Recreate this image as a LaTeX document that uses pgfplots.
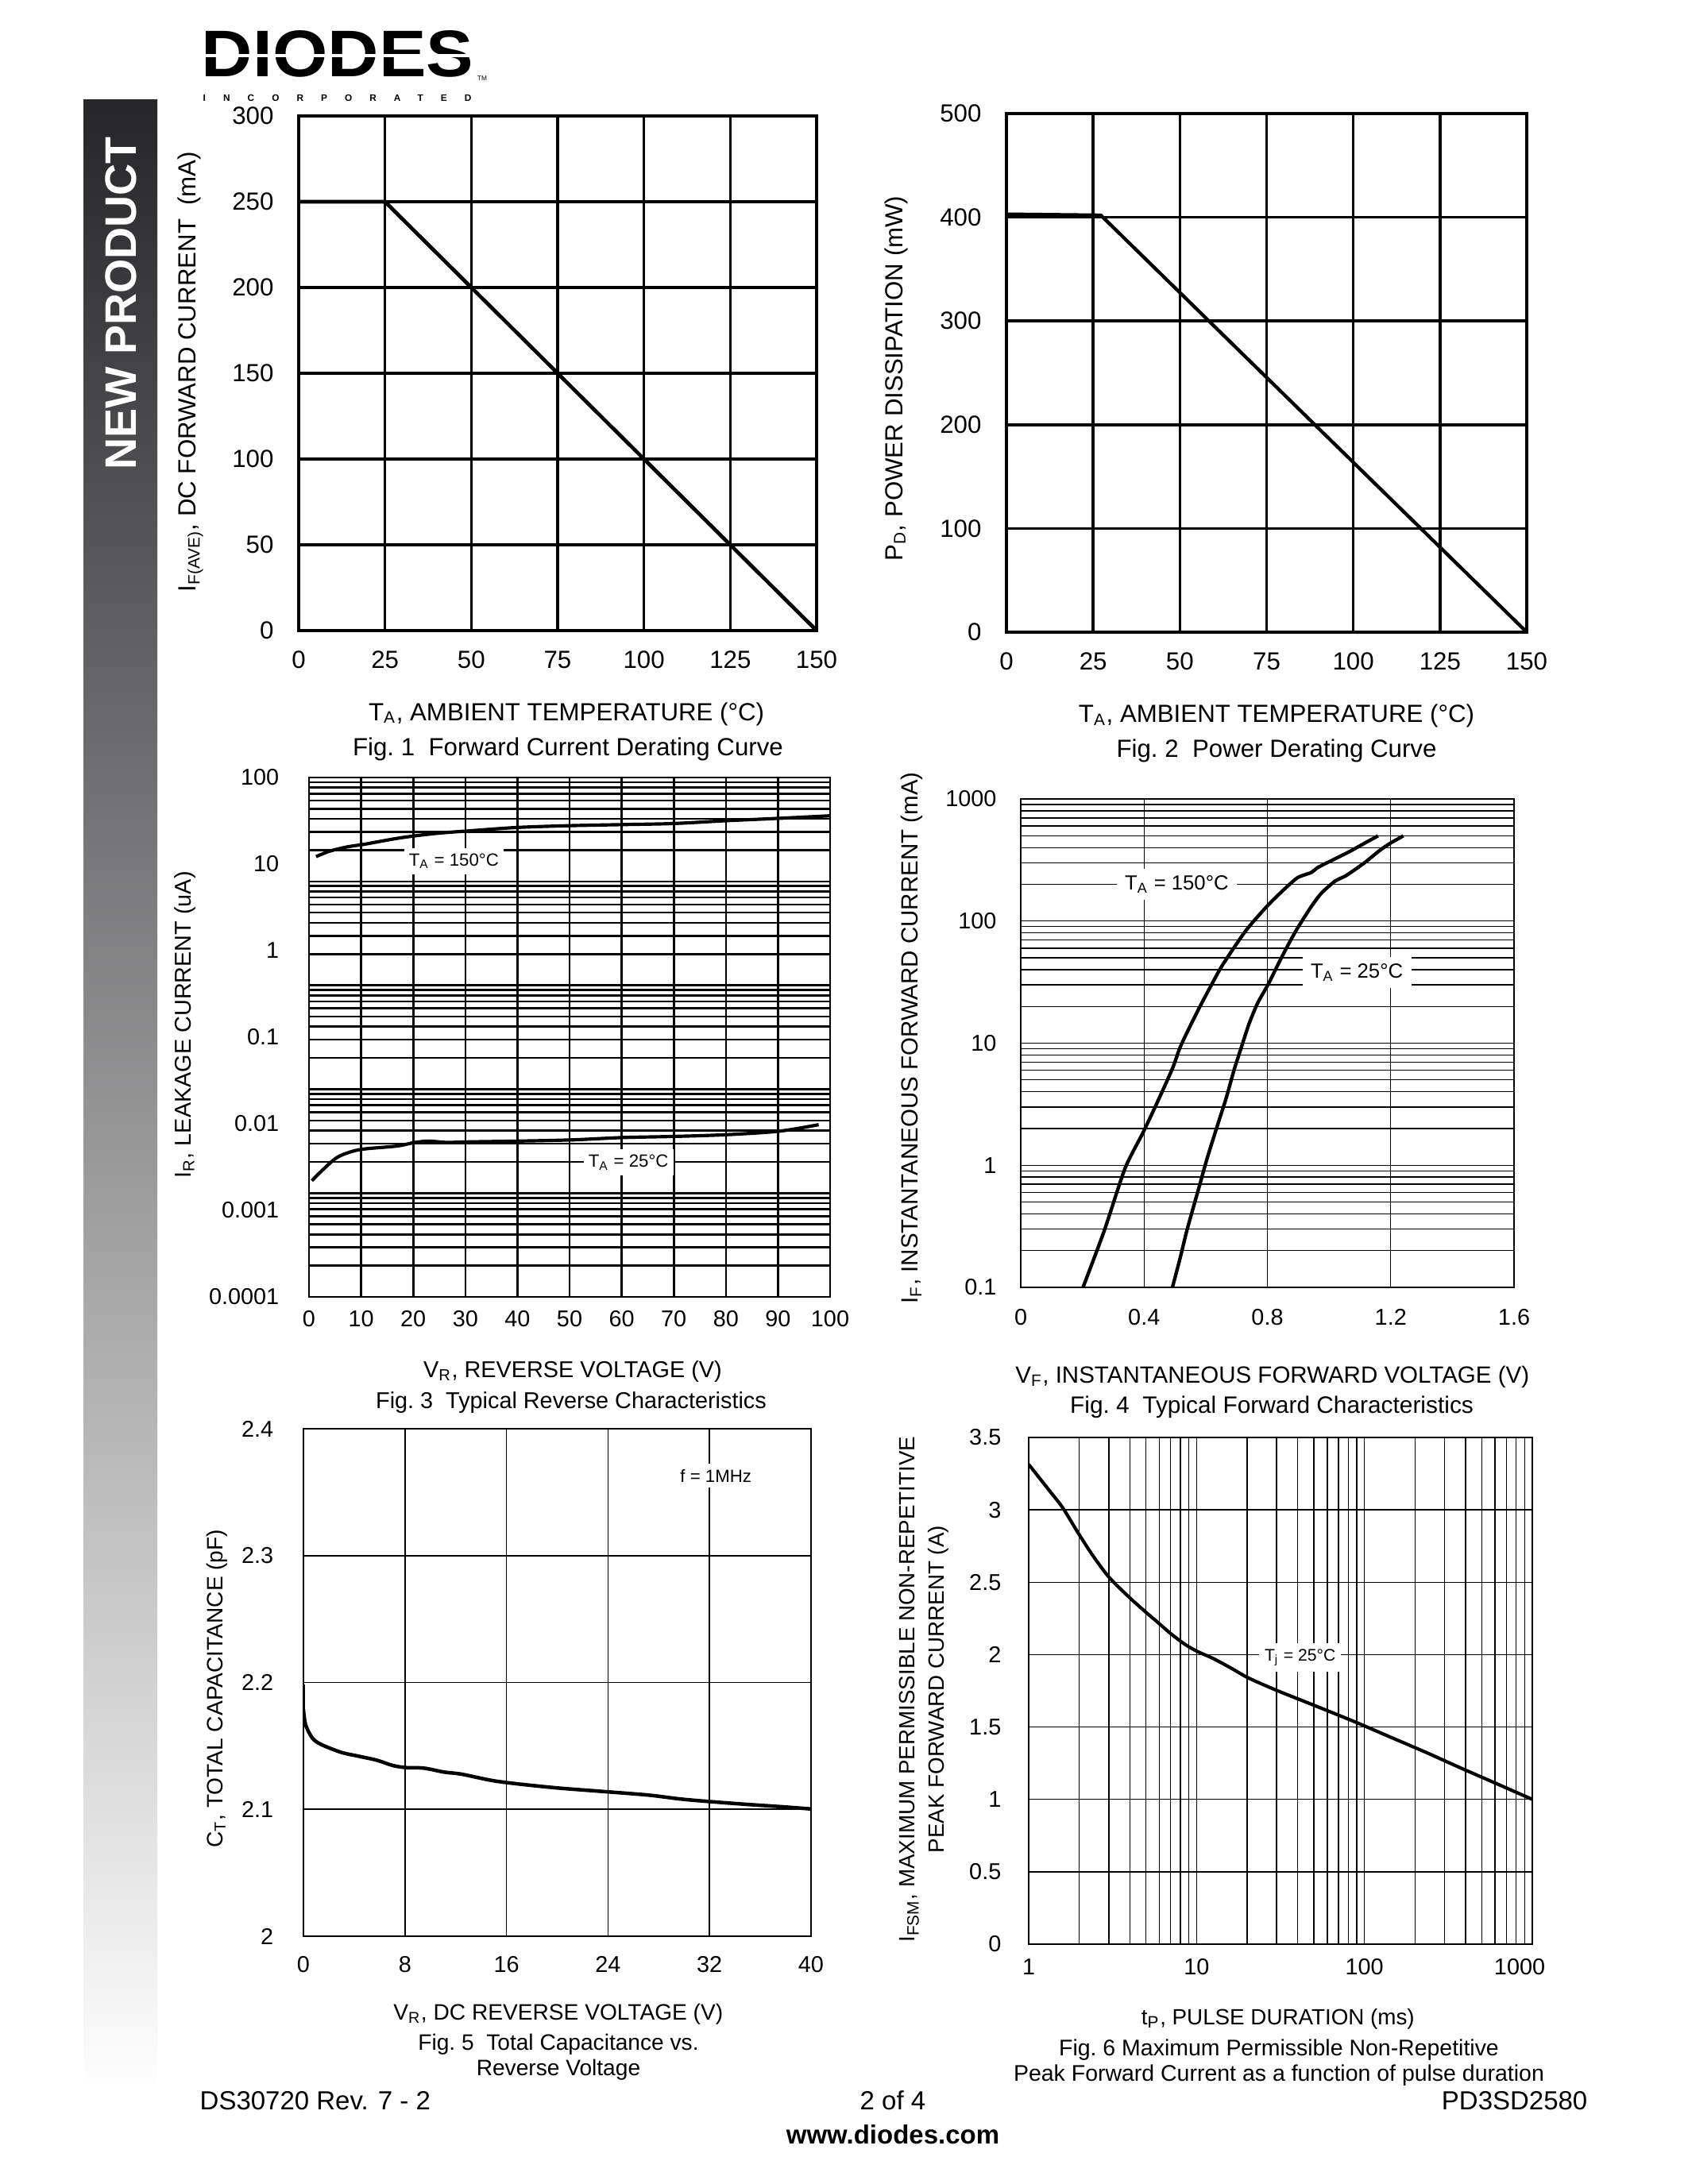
\documentclass[border=0pt]{standalone}
\usepackage{fontspec}
\setmainfont{Liberation Sans}
\usepackage{pgfplots}
\pgfplotsset{compat=1.18}
\newcommand{\fs}[2]{\fontsize{#1}{#2}\selectfont}
\definecolor{barTop}{RGB}{38,37,40}
\definecolor{barMid}{RGB}{120,121,125}
\pgfplotsset{
  ds/.style={
    scale only axis, anchor=north west,
    major tick length=0pt, minor tick length=0pt,
    tick style={draw=none},
    /pgf/number format/assume math mode=true,
    every tick label/.append style={inner sep=0pt},
    axis line style={black},
    label style={inner sep=0pt, anchor=center},
  },
}
\tikzset{txt/.style={inner sep=0pt}}
\begin{document}
\begin{tikzpicture}
\path[use as bounding box] (0,0) rectangle (612pt,-792pt);
\fill[white] (0,0) rectangle (612pt,-792pt);
% side bar
\shade[top color=barTop, middle color=barMid, bottom color=white] (30.24pt,-36.288pt) rectangle (57.024pt,-760.32pt);
\node[txt, rotate=90, text=white, font=\fs{16}{18}\bfseries] at (43.776pt,-110.016pt) {NEW PRODUCT};
% logo
\node[txt] at (122.4pt,-19.58pt) {\resizebox{98.5pt}{16.7pt}{\bfseries DIODES}};
\draw[white, line width=0.9pt] (73.44pt,-20.16pt) -- (170.5pt,-20.16pt);
\node[txt, anchor=west, font=\fs{3.4}{4}\bfseries] at (73.44pt,-35.42pt) {\addfontfeature{LetterSpace=187}INCORPORATED};
\node[txt, font=\fs{2.4}{3}] at (174.8pt,-28.5pt) {TM};

% ---------------- Fig 1 ----------------
\begin{axis}[ds, at={(108.288pt,-42.048pt)}, width=187.776pt, height=186.624pt,
  xmin=0, xmax=150, ymin=0, ymax=300,
  xtick={0,25,50,75,100,125,150}, ytick={0,50,100,150,200,250,300},
  grid=major, grid style={black, line width=1pt}, axis line style={line width=1pt},
  tick label style={font=\fs{9}{11}},
  yticklabel style={xshift=-8.9pt}, xticklabel style={yshift=-7.2pt},
  label style={font=\fs{9}{11}},
  xlabel={T\textsubscript{A}, AMBIENT TEMPERATURE (°C)},
  ylabel={I\textsubscript{F(AVE)}, DC FORWARD CURRENT\ \ (mA)},
  xlabel style={at={(axis description cs:0.517,-0.162)}},
  ylabel style={at={(axis description cs:-0.2086,0.503)}},
]
\addplot[black, line width=1.35pt] coordinates {(0,250) (25,250) (150,0)};
\end{axis}
\node[txt, font=\fs{9}{11}] at (205.92pt,-271.58pt) {Fig.\ 1\ \ Forward Current Derating Curve};

% ---------------- Fig 2 ----------------
\begin{axis}[ds, at={(364.896pt,-41.184pt)}, width=188.64pt, height=188.064pt,
  xmin=0, xmax=150, ymin=0, ymax=500,
  xtick={0,25,50,75,100,125,150}, ytick={0,100,200,300,400,500},
  grid=major, grid style={black, line width=1pt}, axis line style={line width=1pt},
  tick label style={font=\fs{9}{11}},
  yticklabel style={xshift=-8.9pt}, xticklabel style={yshift=-7.2pt},
  label style={font=\fs{9}{11}},
  xlabel={T\textsubscript{A}, AMBIENT TEMPERATURE (°C)},
  ylabel={P\textsubscript{D}, POWER DISSIPATION (mW)},
  xlabel style={at={(axis description cs:0.519,-0.162)}},
  ylabel style={at={(axis description cs:-0.212,0.489)}},
]
\addplot[black, line width=1.25pt] coordinates {(0,403) (27.2,402) (150,0)};
\end{axis}
\node[txt, font=\fs{9}{11}] at (462.82pt,-272.16pt) {Fig.\ 2\ \ Power Derating Curve};

% ---------------- Fig 3 ----------------
\begin{axis}[ds, at={(112.032pt,-281.952pt)}, width=188.928pt, height=188.352pt,
  ymode=log, xmin=0, xmax=100, ymin=0.0001, ymax=100,
  xtick={0,10,20,30,40,50,60,70,80,90,100},
  ytick={0.0001,0.001,0.01,0.1,1,10,100},
  yticklabels={0.0001,0.001,0.01,0.1,1,10,100},
  minor ytick={6.310,14.50,23.58,33.31,43.52,54.16,65.19,76.50,88.13,
    0.3981,0.9145,1.488,2.101,2.747,3.418,4.112,4.829,5.562,
    0.02512,0.05770,0.09387,0.1326,0.1733,0.2157,0.2595,0.3047,0.3509,
    0.001585,0.003641,0.005923,0.008366,0.01093,0.01361,0.01637,0.01923,0.02214,
    0.0002297,0.0003737,0.0005278,0.0006899,0.0008586,0.001033,0.001213,0.001397},
  xmajorgrids=true, ymajorgrids=false, yminorgrids=true,
  major grid style={black, line width=0.75pt}, minor grid style={black, line width=0.75pt},
  axis line style={line width=0.75pt},
  tick label style={font=\fs{8.3}{10}},
  yticklabel style={xshift=-10.7pt}, xticklabel style={yshift=-4.9pt},
  label style={font=\fs{8.3}{10}},
  xlabel={V\textsubscript{R}, REVERSE VOLTAGE (V)},
  ylabel={I\textsubscript{R}, LEAKAGE CURRENT (uA)},
  xlabel style={at={(axis description cs:0.506,-0.144)}},
  ylabel style={at={(axis description cs:-0.238,0.524)}},
]
\addplot[black, line width=1.2pt, smooth, tension=0.5] coordinates {
 (1.36,12.2) (3.95,14.1) (7.35,15.8) (10.75,17.0) (17.55,20.1) (24.35,22.6)
 (31.16,24.3) (40.0,26.5) (50.2,27.8) (60.4,28.6) (69.9,29.4) (80.1,31.7)
 (90.3,33.8) (99.9,36.1)};
\addplot[black, line width=1.2pt, smooth, tension=0.5] coordinates {
 (0.54,0.00220) (2.59,0.00292) (5.31,0.00406) (8.03,0.00475) (10.75,0.00513)
 (16.87,0.00553) (20.27,0.00608) (22.99,0.00631) (26.39,0.00610) (31.16,0.00619)
 (40.0,0.00631) (50.2,0.00651) (60.4,0.00694) (69.9,0.00714) (80.1,0.00748)
 (90.3,0.00822) (97.8,0.00977)};
\node[fill=white, inner xsep=1.8pt, inner ysep=2pt, font=\fs{6.4}{7.5}] at (axis cs:27.8,10.8) {T\textsubscript{A} = 150°C};
\node[fill=white, inner xsep=1.8pt, inner ysep=2pt, font=\fs{6.4}{7.5}] at (axis cs:61.3,0.00358) {T\textsubscript{A} = 25°C};
\end{axis}
\node[txt, font=\fs{8.3}{10}] at (207.07pt,-508.61pt) {Fig.\ 3\ \ Typical Reverse Characteristics};

% ---------------- Fig 4 ----------------
\begin{axis}[ds, at={(370.08pt,-289.728pt)}, width=178.848pt, height=177.12pt,
  ymode=log, xmin=0, xmax=1.6, ymin=0.1, ymax=1000,
  xtick={0,0.4,0.8,1.2,1.6}, xticklabels={0,0.4,0.8,1.2,1.6},
  ytick={0.1,1,10,100,1000}, yticklabels={0.1,1,10,100,1000},
  xmajorgrids=true, ymajorgrids=true, yminorgrids=true,
  major grid style={black, line width=0.4pt}, minor grid style={black, line width=0.4pt},
  axis line style={line width=0.5pt},
  tick label style={font=\fs{8.3}{10}},
  yticklabel style={xshift=-8.6pt}, xticklabel style={yshift=-7.8pt},
  label style={font=\fs{8.5}{10}},
  xlabel={V\textsubscript{F}, INSTANTANEOUS FORWARD VOLTAGE (V)},
  ylabel={I\textsubscript{F}, INSTANTANEOUS FORWARD CURRENT (mA)},
  xlabel style={at={(axis description cs:0.510,-0.183)}},
  ylabel style={at={(axis description cs:-0.221,0.511)}},
]
\addplot[black, line width=1.25pt, smooth, tension=0.4] coordinates {
 (0.202,0.1) (0.271,0.292) (0.338,0.94) (0.396,1.84) (0.441,3.2) (0.492,6.2)
 (0.515,9.0) (0.537,11.9) (0.581,19.9) (0.620,30.5) (0.655,43.9) (0.729,82.8)
 (0.796,130) (0.841,169) (0.897,226) (0.941,249) (0.964,275) (1.008,313)
 (1.064,368) (1.120,441) (1.159,499)};
\addplot[black, line width=1.25pt, smooth, tension=0.4] coordinates {
 (0.492,0.1) (0.517,0.174) (0.540,0.30) (0.576,0.63) (0.605,1.15) (0.640,2.2)
 (0.667,3.6) (0.692,6.05) (0.714,9.0) (0.740,14.3) (0.768,21.2) (0.803,30.5)
 (0.847,51) (0.892,82.8) (0.941,130) (0.975,169) (1.019,212) (1.053,234)
 (1.086,266) (1.120,307) (1.165,380) (1.198,433) (1.241,499)};
\node[fill=white, inner xsep=3pt, inner ysep=2.5pt, font=\fs{7.4}{9}] at (axis cs:0.506,200) {T\textsubscript{A} = 150°C};
\node[fill=white, inner xsep=3pt, inner ysep=2.5pt, font=\fs{7.4}{9}] at (axis cs:1.09,38) {T\textsubscript{A} = 25°C};
\end{axis}
\node[txt, font=\fs{8.6}{10}] at (461.09pt,-510.34pt) {Fig.\ 4\ \ Typical Forward Characteristics};

% ---------------- Fig 5 ----------------
\begin{axis}[ds, at={(110.016pt,-518.112pt)}, width=184.032pt, height=184.032pt,
  xmin=0, xmax=40, ymin=2, ymax=2.4,
  xtick={0,8,16,24,32,40}, ytick={2,2.1,2.2,2.3,2.4}, yticklabels={2,2.1,2.2,2.3,2.4},
  grid=major, grid style={black, line width=0.45pt}, axis line style={line width=0.5pt},
  tick label style={font=\fs{8.3}{10}},
  yticklabel style={xshift=-10.7pt}, xticklabel style={yshift=-7.2pt},
  label style={font=\fs{8.1}{10}},
  xlabel={V\textsubscript{R}, DC REVERSE VOLTAGE (V)},
  ylabel={C\textsubscript{T}, TOTAL CAPACITANCE (pF)},
  xlabel style={at={(axis description cs:0.502,-0.153)}},
  ylabel style={at={(axis description cs:-0.171,0.488)}},
]
\addplot[black, line width=1.3pt] coordinates {(0,2.1985) (0,2.1785)};
\addplot[black, line width=1.3pt, smooth, tension=0.5] coordinates {
 (0,2.1785) (0.176,2.1665) (0.703,2.1562) (1.406,2.1511) (2.988,2.1449) (4.394,2.1418)
 (5.8,2.1387) (7.03,2.1346) (8.084,2.1329) (9.49,2.1325) (11.07,2.1294) (12.48,2.1277)
 (14.94,2.1226) (17.4,2.1195) (20.21,2.1167) (23.73,2.1140) (27.24,2.1112) (30.05,2.1078)
 (34.27,2.1044) (37.79,2.1020) (40,2.1003)};
\node[fill=white, inner xsep=2pt, inner ysep=2pt, font=\fs{6.4}{8}] at (axis cs:32.5,2.363) {f = 1MHz};
\end{axis}
\node[txt, font=\fs{8.1}{9.2}, align=center] at (202.46pt,-745.92pt) {Fig.\ 5\ \ Total Capacitance vs.\\Reverse Voltage};

% ---------------- Fig 6 ----------------
\begin{axis}[ds, at={(372.96pt,-521.28pt)}, width=182.592pt, height=183.744pt,
  xmode=log, xmin=1, xmax=1000, ymin=0, ymax=3.5,
  xtick={1,10,100,1000}, xticklabels={1,10,100,\hspace*{-4.6pt}1000\hspace*{4.6pt}},
  ytick={0,0.5,1,1.5,2,2.5,3,3.5}, yticklabels={0,0.5,1,1.5,2,2.5,3,3.5},
  xmajorgrids=true, xminorgrids=true, ymajorgrids=true,
  major grid style={black, line width=0.4pt}, minor grid style={black, line width=0.4pt},
  axis line style={line width=0.5pt},
  tick label style={font=\fs{8.3}{10}},
  yticklabel style={xshift=-9.8pt}, xticklabel style={yshift=-5.2pt},
  label style={font=\fs{8}{10.5}},
  xlabel={t\textsubscript{P}, PULSE DURATION (ms)},
  ylabel={I\textsubscript{FSM}, MAXIMUM PERMISSIBLE NON-REPETITIVE\\PEAK FORWARD CURRENT (A)},
  xlabel style={at={(axis description cs:0.495,-0.147)}},
  ylabel style={at={(axis description cs:-0.208,0.503)}, align=center},
]
\addplot[black, line width=1.2pt, smooth, tension=0.5] coordinates {
 (1,3.314) (1.345,3.125) (1.594,3.015) (1.965,2.843) (2.411,2.684) (3.0,2.537)
 (3.92,2.402) (5.0,2.292) (5.78,2.230) (7.02,2.145) (8.53,2.071) (10.11,2.022)
 (12.58,1.973) (16.05,1.907) (20.46,1.838) (30.19,1.752) (49.1,1.654) (88,1.535)
 (143,1.43) (232.5,1.325) (378,1.215) (615,1.108) (1000,1.0)};
\node[fill=white, inner xsep=2pt, inner ysep=2pt, font=\fs{6.1}{7.5}] at (axis cs:41.4,1.98) {T\textsubscript{j} = 25°C};
\end{axis}
\node[txt, font=\fs{8.2}{9.2}, align=center] at (463.68pt,-747.94pt) {Fig.\ 6 Maximum Permissible Non-Repetitive\\Peak Forward Current as a function of pulse duration};

% footer
\node[txt, anchor=west, font=\fs{9.5}{11}] at (72.29pt,-761.76pt) {DS30720 Rev. 7 - 2};
\node[txt, font=\fs{9.5}{11}] at (323.71pt,-761.76pt) {2 of 4};
\node[txt, anchor=east, font=\fs{9.5}{11}] at (575.71pt,-761.76pt) {PD3SD2580};
\node[txt, font=\fs{9.5}{11}\bfseries] at (323.71pt,-774.14pt) {www.diodes.com};
\end{tikzpicture}
\end{document}
